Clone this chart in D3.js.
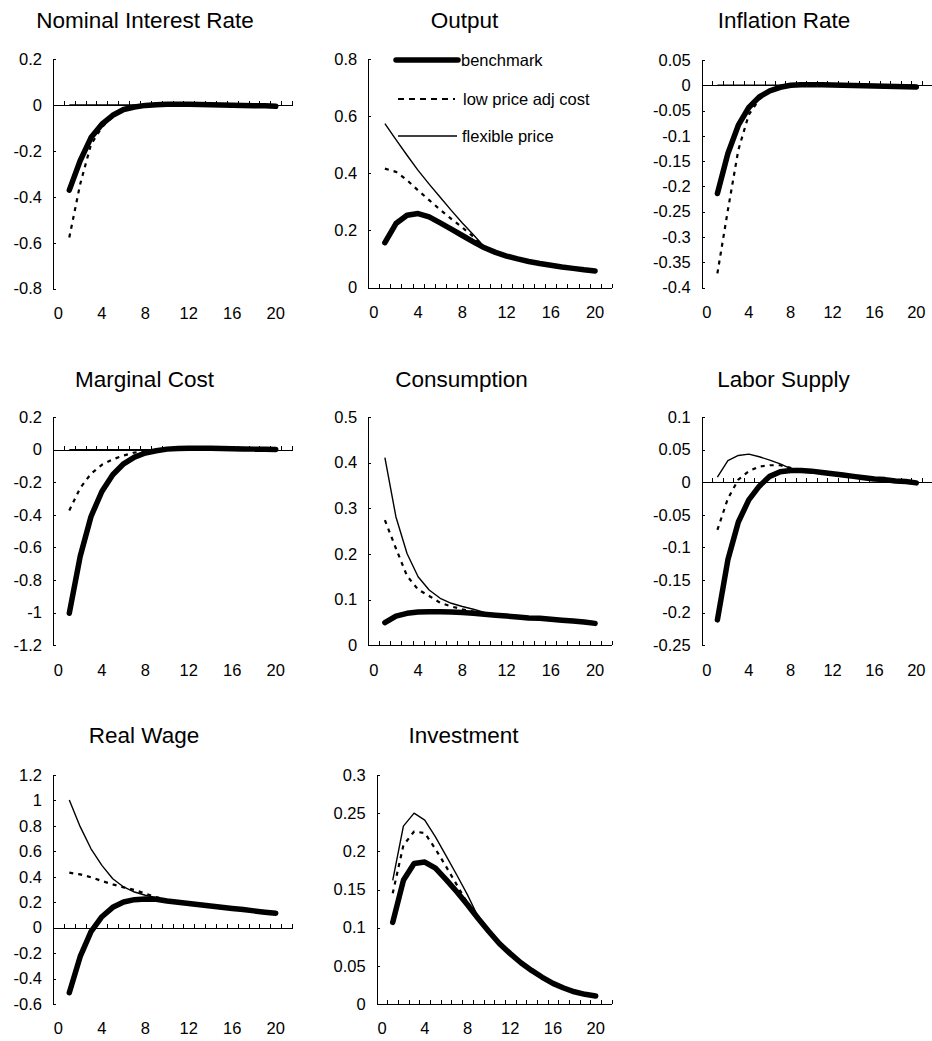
<!DOCTYPE html>
<html><head><meta charset="utf-8">
<script src="https://cdn.jsdelivr.net/npm/d3@7"></script>
<style>
body{margin:0;background:#fff}
svg{display:block}
text{font-family:"Liberation Sans",Arial,Helvetica,sans-serif;fill:#000}
</style>
</head><body>
<svg id="c" width="932" height="1041"></svg>
<script>
// ---------- data ----------
const categories = [0,1,2,3,4,5,6,7,8,9,10,11,12,13,14,15,16,17,18,19,20,21];
const periods = [1,2,3,4,5,6,7,8,9,10,11,12,13,14,15,16,17,18,19,20];
const xTickLabels = [0,4,8,12,16,20];
const seriesNames = ["benchmark","low price adj cost","flexible price"];
const titles = ["Nominal Interest Rate","Output","Inflation Rate","Marginal Cost","Consumption","Labor Supply","Real Wage","Investment"];

const nirTicks = [0.2,0,-0.2,-0.4,-0.6,-0.8];
const nirBench = [-0.371,-0.243,-0.142,-0.084,-0.045,-0.020,-0.009,-0.002,0.001,0.003,0.003,0.003,0.002,0.001,0.000,-0.001,-0.002,-0.003,-0.004,-0.006];
const nirLow   = [-0.577,-0.345,-0.172,-0.097,-0.050,-0.021,-0.009,-0.002,0.001,0.003,0.003,0.003,0.002,0.001,0.000,-0.001,-0.002,-0.003,-0.004,-0.006];
const nirFlex  = [0,0,0,0,0,0,0,0,0,0,0,0,0,0,0,0,0,0,0,0];

const outTicks = [0.8,0.6,0.4,0.2,0];
const outBench = [0.157,0.224,0.253,0.259,0.247,0.226,0.204,0.182,0.160,0.139,0.123,0.110,0.100,0.091,0.084,0.078,0.072,0.067,0.062,0.058];
const outLow   = [0.416,0.405,0.376,0.340,0.306,0.272,0.240,0.210,0.178,0.141,0.123,0.110,0.100,0.091,0.084,0.078,0.072,0.067,0.062,0.058];
const outFlex  = [0.574,0.518,0.463,0.410,0.362,0.316,0.270,0.226,0.185,0.142,0.123,0.110,0.100,0.091,0.084,0.078,0.072,0.067,0.062,0.058];

const infTicks = [0.05,0,-0.05,-0.1,-0.15,-0.2,-0.25,-0.3,-0.35,-0.4];
const infBench = [-0.214,-0.135,-0.079,-0.044,-0.023,-0.011,-0.004,0.000,0.001,0.001,0.001,0.0005,0.000,-0.0005,-0.001,-0.0015,-0.002,-0.0025,-0.003,-0.0035];
const infLow   = [-0.372,-0.247,-0.128,-0.058,-0.028,-0.012,-0.004,0.000,0.001,0.001,0.001,0.0005,0.000,-0.0005,-0.001,-0.0015,-0.002,-0.0025,-0.003,-0.0035];
const infFlex  = [0,0,0,0,0,0,0,0,0,0,0,0,0,0,0,0,0,0,0,0];

const mcTicks = [0.2,0,-0.2,-0.4,-0.6,-0.8,-1,-1.2];
const mcBench = [-1.003,-0.656,-0.410,-0.257,-0.154,-0.087,-0.046,-0.021,-0.007,0.003,0.007,0.009,0.009,0.008,0.007,0.006,0.004,0.003,0.002,0.001];
const mcLow   = [-0.373,-0.236,-0.148,-0.093,-0.060,-0.036,-0.018,-0.008,-0.002,0.003,0.007,0.009,0.009,0.008,0.007,0.006,0.004,0.003,0.002,0.001];
const mcFlex  = [0,0,0,0,0,0,0,0,0,0,0,0,0,0,0,0,0,0,0,0];

const conTicks = [0.5,0.4,0.3,0.2,0.1,0];
const conBench = [0.0496,0.064,0.070,0.073,0.0736,0.0736,0.073,0.072,0.070,0.068,0.066,0.064,0.062,0.060,0.059,0.057,0.055,0.053,0.051,0.048];
const conLow   = [0.274,0.212,0.152,0.122,0.108,0.093,0.085,0.079,0.074,0.070,0.066,0.064,0.062,0.060,0.059,0.057,0.055,0.053,0.051,0.048];
const conFlex  = [0.411,0.281,0.201,0.150,0.121,0.103,0.092,0.085,0.079,0.072,0.067,0.064,0.062,0.060,0.059,0.057,0.055,0.053,0.051,0.048];

const labTicks = [0.1,0.05,0,-0.05,-0.1,-0.15,-0.2,-0.25];
const labBench = [-0.211,-0.119,-0.061,-0.027,-0.006,0.009,0.016,0.018,0.018,0.017,0.015,0.013,0.011,0.009,0.007,0.005,0.004,0.002,0.001,-0.001];
const labLow   = [-0.073,-0.025,0.004,0.017,0.024,0.026,0.026,0.022,0.019,0.017,0.015,0.013,0.011,0.009,0.007,0.005,0.004,0.002,0.001,-0.001];
const labFlex  = [0.008,0.033,0.041,0.043,0.039,0.034,0.028,0.021,0.018,0.017,0.015,0.013,0.011,0.009,0.007,0.005,0.004,0.002,0.001,-0.001];

const rwTicks = [1.2,1,0.8,0.6,0.4,0.2,0,-0.2,-0.4,-0.6];
const rwBench = [-0.511,-0.228,-0.031,0.086,0.160,0.202,0.220,0.225,0.223,0.210,0.200,0.190,0.180,0.170,0.160,0.151,0.142,0.132,0.122,0.113];
const rwLow   = [0.432,0.419,0.396,0.367,0.340,0.317,0.296,0.268,0.240,0.215,0.200,0.190,0.180,0.170,0.160,0.151,0.142,0.132,0.122,0.113];
const rwFlex  = [1.003,0.794,0.620,0.490,0.385,0.320,0.280,0.255,0.235,0.215,0.200,0.190,0.180,0.170,0.160,0.151,0.142,0.132,0.122,0.113];

const invTicks = [0.3,0.25,0.2,0.15,0.1,0.05,0];
const invBench = [0.107,0.162,0.184,0.186,0.178,0.163,0.147,0.130,0.112,0.095,0.079,0.066,0.054,0.044,0.035,0.027,0.021,0.016,0.0127,0.0105];
const invLow   = [0.145,0.208,0.226,0.224,0.203,0.180,0.156,0.132,0.113,0.095,0.079,0.066,0.054,0.044,0.035,0.027,0.021,0.016,0.0127,0.0105];
const invFlex  = [0.162,0.233,0.250,0.241,0.219,0.194,0.169,0.143,0.114,0.095,0.079,0.066,0.054,0.044,0.035,0.027,0.021,0.016,0.0127,0.0105];

// ---------- layout ----------
const panels = [
  {title:titles[0], ticks:nirTicks, s:[nirBench,nirLow,nirFlex], left:53,    right:292,   top:59,  bottom:288.7, tx:145,   ty:28},
  {title:titles[1], ticks:outTicks, s:[outBench,outLow,outFlex], left:368.3, right:611.7, top:59,  bottom:287.5, tx:464.5, ty:28, legend:true},
  {title:titles[2], ticks:infTicks, s:[infBench,infLow,infFlex], left:701.7, right:932,   top:60,  bottom:287.5, tx:784,   ty:28},
  {title:titles[3], ticks:mcTicks,  s:[mcBench,mcLow,mcFlex],    left:53,    right:292,   top:417, bottom:645.3, tx:144.5, ty:387},
  {title:titles[4], ticks:conTicks, s:[conBench,conLow,conFlex], left:368.3, right:611.7, top:417, bottom:645.3, tx:461.5, ty:387},
  {title:titles[5], ticks:labTicks, s:[labBench,labLow,labFlex], left:701.7, right:932,   top:417, bottom:645.3, tx:783.5, ty:387},
  {title:titles[6], ticks:rwTicks,  s:[rwBench,rwLow,rwFlex],    left:53,    right:292,   top:775, bottom:1004,  tx:144,   ty:743},
  {title:titles[7], ticks:invTicks, s:[invBench,invLow,invFlex], left:376.7, right:611.7, top:775, bottom:1004,  tx:463.5, ty:743}
];

const styles = [
  {w:5.5, dash:null},
  {w:2.2, dash:"4,5"},
  {w:1.4, dash:null}
];

const svg = d3.select("#c");
const TICK_FS = 16.5;

function fmt(v){ return String(Math.round(v*1000)/1000); }

panels.forEach(p=>{
  const g = svg.append("g");
  const x = d3.scaleBand().domain(categories).range([p.left,p.right]).padding(0);
  const cx = c => x(c) + x.bandwidth()/2;
  const xb = d3.scaleLinear().domain([0,categories.length]).range([p.left,p.right]);
  const y = d3.scaleLinear().domain([d3.min(p.ticks), d3.max(p.ticks)]).range([p.bottom,p.top]);

  // title
  g.append("text").attr("x",p.tx).attr("y",p.ty).attr("text-anchor","middle")
    .style("font-size","22.5px").text(p.title);

  // y axis (ticks inside, labels left)
  const ya = g.append("g").attr("transform",`translate(${p.left},0)`)
    .call(d3.axisLeft(y).tickValues(p.ticks).tickSizeInner(-3).tickSizeOuter(0).tickPadding(11).tickFormat(fmt));
  ya.selectAll("path,line").attr("stroke","#000").attr("stroke-width",1).attr("shape-rendering","crispEdges");
  ya.selectAll("text").style("font-size",TICK_FS+"px").style("font-family",'"Liberation Sans",Arial,sans-serif').attr("fill","#000");

  // x axis line at zero with boundary ticks pointing up
  const xa = g.append("g").attr("transform",`translate(0,${y(0)})`)
    .call(d3.axisBottom(xb).tickValues(d3.range(0,categories.length+1)).tickSizeInner(-4).tickSizeOuter(0).tickFormat(""));
  xa.selectAll("path,line").attr("stroke","#000").attr("stroke-width",1).attr("shape-rendering","crispEdges");

  // x labels at bottom
  const xl = g.append("g").attr("transform",`translate(0,${p.bottom})`)
    .call(d3.axisBottom(x).tickValues(xTickLabels).tickSize(0).tickPadding(18.5));
  xl.select(".domain").remove();
  xl.selectAll("text").style("font-size",TICK_FS+"px").style("font-family",'"Liberation Sans",Arial,sans-serif').attr("fill","#000");

  // series
  const line = d3.line().x((d,i)=>cx(periods[i])).y(d=>y(d));
  [0,1,2].forEach(k=>{
    const st = styles[k];
    g.append("path").datum(p.s[k]).attr("d",line).attr("fill","none").attr("stroke","#000")
      .attr("stroke-width",st.w).attr("stroke-linecap",k===0?"round":"butt").attr("stroke-linejoin","round")
      .attr("stroke-dasharray",st.dash);
  });

  if(p.legend){
    const L = [{x1:396,x2:458,y:60,tx:461,ty:66},{x1:398,x2:455,y:99,tx:463,ty:105},{x1:398,x2:457,y:136,tx:462,ty:142}];
    L.forEach((l,k)=>{
      const st = styles[k];
      g.append("line").attr("x1",l.x1).attr("x2",l.x2).attr("y1",l.y).attr("y2",l.y)
        .attr("stroke","#000").attr("stroke-width",st.w).attr("stroke-linecap",k===0?"round":"butt")
        .attr("stroke-dasharray",k===1?"6,5":null);
      g.append("text").attr("x",l.tx).attr("y",l.ty).style("font-size","16.5px").text(seriesNames[k]);
    });
  }
});
</script>
</body></html>
